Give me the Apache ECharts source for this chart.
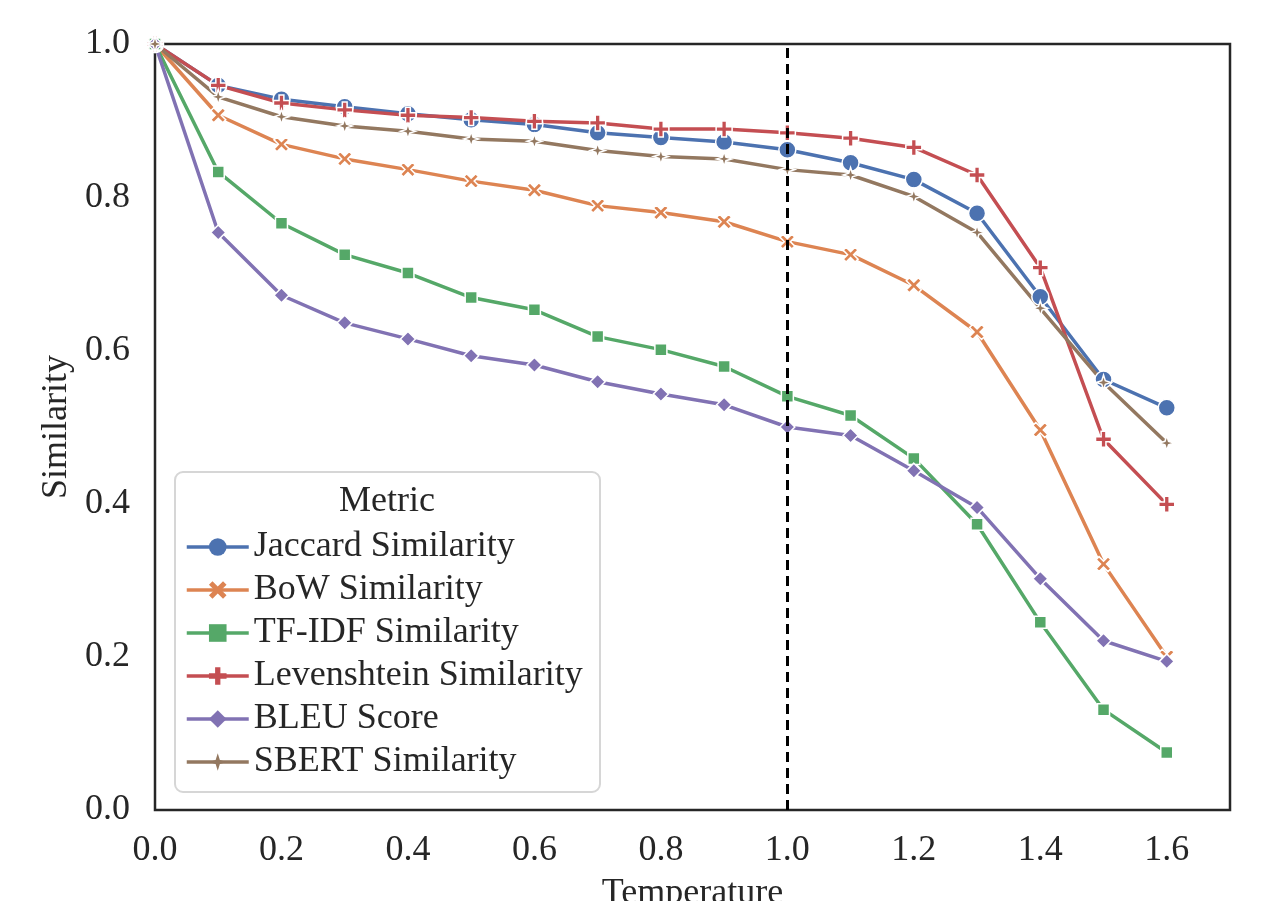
<!DOCTYPE html>
<html>
<head>
<meta charset="utf-8">
<script src="https://cdn.jsdelivr.net/npm/echarts@6/dist/echarts.min.js"></script>
<style>
html,body{margin:0;padding:0;background:#fff;}
#chart{width:1278px;height:901px;}
</style>
</head>
<body>
<div id="chart"></div>
<script>
const temperatures = [0.0,0.1,0.2,0.3,0.4,0.5,0.6,0.7,0.8,0.9,1.0,1.1,1.2,1.3,1.4,1.5,1.6];
const jaccard = [1.0,0.946,0.928,0.918,0.909,0.901,0.895,0.884,0.878,0.872,0.862,0.845,0.823,0.779,0.670,0.562,0.525];
const bow = [1.0,0.907,0.869,0.850,0.836,0.821,0.809,0.789,0.780,0.768,0.742,0.725,0.685,0.624,0.496,0.321,0.200];
const tfidf = [1.0,0.833,0.766,0.725,0.701,0.669,0.653,0.618,0.601,0.579,0.540,0.515,0.459,0.373,0.245,0.131,0.075];
const levenshtein = [1.0,0.946,0.923,0.914,0.907,0.904,0.899,0.897,0.889,0.889,0.884,0.877,0.865,0.829,0.708,0.484,0.399];
const bleu = [1.0,0.754,0.672,0.636,0.615,0.593,0.581,0.559,0.543,0.529,0.500,0.489,0.443,0.395,0.302,0.221,0.194];
const sbert = [1.0,0.931,0.905,0.893,0.886,0.876,0.873,0.861,0.853,0.850,0.836,0.829,0.801,0.754,0.655,0.558,0.479];
const seriesNames = ['Jaccard Similarity','BoW Similarity','TF-IDF Similarity','Levenshtein Similarity','BLEU Score','SBERT Similarity'];
const legendTitle = 'Metric';
const xTicks = [0.0,0.2,0.4,0.6,0.8,1.0,1.2,1.4,1.6];
const yTicks = [0.0,0.2,0.4,0.6,0.8,1.0];
const refTemperature = 1.0;

const FONT = "'Liberation Serif','DejaVu Serif',serif";
const FS = 36;
const TXT = '#262626';
const values = [jaccard,bow,tfidf,levenshtein,bleu,sbert];
const colors = ['#4C72B0','#DD8452','#55A868','#C44E52','#8172B3','#937860'];
const symbols = [
  'circle',
  'path://M2,0 L5,3 L8,0 L10,2 L7,5 L10,8 L8,10 L5,7 L2,10 L0,8 L3,5 L0,2 Z',
  'rect',
  'path://M3.5,0 H6.5 V3.5 H10 V6.5 H6.5 V10 H3.5 V6.5 H0 V3.5 H3.5 Z',
  'diamond',
  'path://M5,0 L6.2,3.8 L10,5 L6.2,6.2 L5,10 L3.8,6.2 L0,5 L3.8,3.8 Z'
];
const sizes = [17,15,12,16,15,15];

const series = values.map((v,i)=>({
  name: seriesNames[i],
  type: 'line',
  data: temperatures.map((t,j)=>[t, v[j]]),
  color: colors[i],
  symbol: symbols[i],
  symbolSize: sizes[i],
  showAllSymbol: true,
  lineStyle: {width: 3.5, color: colors[i]},
  itemStyle: {color: colors[i], borderColor: '#fff', borderWidth: 1.5},
  emphasis: {disabled: true},
  animation: false
}));
series.push({
  type: 'line',
  data: [],
  z: 10,
  silent: true,
  animation: false,
  markLine: {
    silent: true,
    symbol: 'none',
    label: {show: false},
    lineStyle: {color: '#000', width: 3, type: [10,6]},
    data: [{xAxis: refTemperature}],
    animation: false
  }
});

const chart = echarts.init(document.getElementById('chart'), null, {renderer: 'canvas'});
chart.setOption({
  backgroundColor: '#fff',
  animation: false,
  grid: {left: 155, right: 48, top: 44, bottom: 91, show: true, borderColor: TXT, borderWidth: 2.5,
         backgroundColor: 'transparent', containLabel: false, outerBoundsMode: 'none'},
  xAxis: {
    type: 'value', min: 0, max: 1.7, interval: 0.2,
    name: 'Temperature', nameLocation: 'middle', nameGap: 66,
    nameTextStyle: {fontFamily: FONT, fontSize: FS, color: TXT},
    axisLine: {show: false}, axisTick: {show: false}, splitLine: {show: false},
    axisLabel: {fontFamily: FONT, fontSize: FS, color: TXT, margin: 23, showMaxLabel: false,
      formatter: v => xTicks.some(t=>Math.abs(t-v)<1e-6) ? v.toFixed(1) : ''}
  },
  yAxis: {
    type: 'value', min: 0, max: 1, interval: 0.2,
    name: 'Similarity', nameLocation: 'middle', nameGap: 80,
    nameTextStyle: {fontFamily: FONT, fontSize: FS, color: TXT},
    axisLine: {show: false}, axisTick: {show: false}, splitLine: {show: false},
    axisLabel: {fontFamily: FONT, fontSize: FS, color: TXT, margin: 25,
      formatter: v => yTicks.some(t=>Math.abs(t-v)<1e-6) ? v.toFixed(1) : ''}
  },
  legend: {
    orient: 'vertical', left: 180, top: 524,
    itemWidth: 62, itemHeight: 22, itemGap: 7,
    selectedMode: false,
    data: seriesNames,
    lineStyle: {width: 3.5},
    itemStyle: {borderWidth: 0},
    textStyle: {fontFamily: FONT, fontSize: FS, color: TXT, lineHeight: 35.5},
    z: 6
  },
  graphic: [
    {type: 'rect', z: 5, shape: {x: 175, y: 472, width: 425, height: 320, r: 8},
     style: {fill: 'rgba(255,255,255,0.85)', stroke: '#d6d6d6', lineWidth: 2}},
    {type: 'text', z: 6, x: 387, y: 502,
     style: {text: legendTitle, font: FS + "px 'Liberation Serif','DejaVu Serif',serif", fill: TXT, textAlign: 'center', textVerticalAlign: 'middle'}}
  ],
  series: series
});
</script>
</body>
</html>
